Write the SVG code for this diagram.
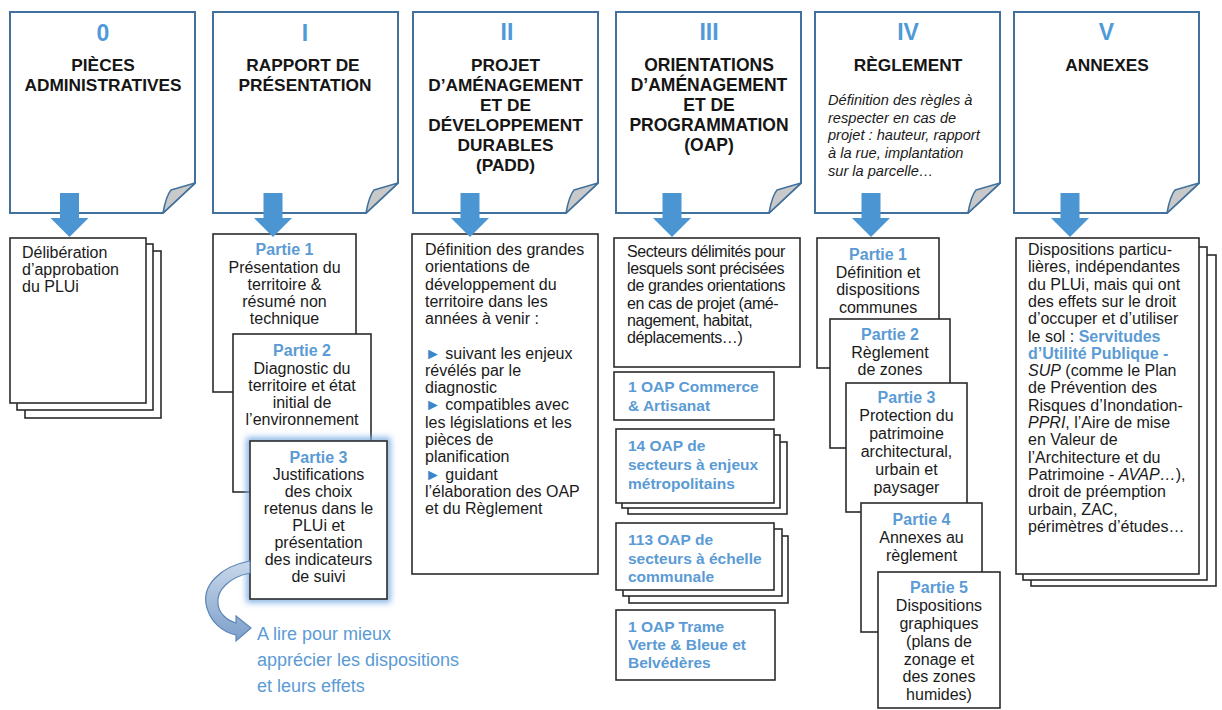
<svg xmlns="http://www.w3.org/2000/svg" xmlns:xlink="http://www.w3.org/1999/xlink" width="1222" height="710" viewBox="0 0 1222 710">
<style>
text{font-family:"Liberation Sans",Arial,sans-serif}
.pg{fill:#fff;stroke:#41719c;stroke-width:2}
.fold{fill:#c9c9c9;stroke:#41719c;stroke-width:1.5;stroke-linejoin:round}
.num{font-size:23px;font-weight:bold;fill:#4f9ad8;text-anchor:middle}
.ttl{font-size:17.3px;font-weight:bold;fill:#151515;text-anchor:middle}
.box{fill:#fff;stroke:#2b2b2b;stroke-width:1.6}
.t{font-size:16px;fill:#1a1a1a}
.c{text-anchor:middle}
.pt{font-weight:bold;fill:#5b9bd5}
.oap{font-size:15.5px;font-weight:bold;fill:#5b9bd5}
.it{font-size:14.6px;font-style:italic;fill:#1a1a1a}
.bul{fill:#3a86c8}
.arr{fill:#4a95d2}
</style>
<defs>
<g id="page">
<path class="pg" d="M0,0 H185 V171 L153,201 H0 Z"/>
<path class="fold" d="M153,201 Q156,184 161,178 L185,171 Z"/>
</g>
<filter id="glow" x="-20%" y="-20%" width="140%" height="140%"><feGaussianBlur stdDeviation="3"/></filter>
<linearGradient id="cg" x1="0" y1="0" x2="0" y2="1">
<stop offset="0" stop-color="#c9d8ea"/>
<stop offset="1" stop-color="#7c9fca"/>
</linearGradient>
</defs>

<g id="col0">
<use xlink:href="#page" x="10" y="12"/>
<text class="num" x="103" y="41">0</text>
<text class="ttl"><tspan x="103" y="71">PIÈCES</tspan><tspan x="103" y="91">ADMINISTRATIVES</tspan></text>
<rect class="box" x="25" y="251" width="136" height="167"/>
<rect class="box" x="17" y="244" width="136" height="166"/>
<rect class="box" x="10" y="238" width="136" height="165"/>
<text class="t"><tspan x="22" y="258">Délibération</tspan><tspan x="22" y="275">d’approbation</tspan><tspan x="22" y="292">du PLUi</tspan></text>
</g>

<g id="col1">
<use xlink:href="#page" x="213" y="12"/>
<text class="num" x="305" y="41">I</text>
<text class="ttl"><tspan x="303" y="71">RAPPORT DE</tspan><tspan x="305" y="91">PRÉSENTATION</tspan></text>
<g id="partie1-1">
<rect class="box" x="213" y="234" width="143" height="158"/>
<text class="t c"><tspan class="pt" x="284.5" y="255">Partie 1</tspan><tspan x="284.5" y="272.5">Présentation du</tspan><tspan x="284.5" y="290">territoire &amp;</tspan><tspan x="284.5" y="307">résumé non</tspan><tspan x="284.5" y="324">technique</tspan></text>
</g>
<g id="partie1-2">
<rect class="box" x="233" y="334" width="138" height="158"/>
<text class="t c"><tspan class="pt" x="302" y="356">Partie 2</tspan><tspan x="302" y="373.5">Diagnostic du</tspan><tspan x="302" y="390.5">territoire et état</tspan><tspan x="302" y="407.5">initial de</tspan><tspan x="302" y="424.5">l’environnement</tspan></text>
</g>
<g id="partie1-3">
<rect x="250" y="441" width="137" height="158" fill="none" stroke="#7fb0e4" stroke-width="7" filter="url(#glow)"/>
<rect class="box" x="250" y="441" width="137" height="158"/>
<text class="t c"><tspan class="pt" x="318.5" y="463">Partie 3</tspan><tspan x="318.5" y="480">Justifications</tspan><tspan x="318.5" y="497">des choix</tspan><tspan x="318.5" y="514">retenus dans le</tspan><tspan x="318.5" y="531">PLUi et</tspan><tspan x="318.5" y="548">présentation</tspan><tspan x="318.5" y="565">des indicateurs</tspan><tspan x="318.5" y="582">de suivi</tspan></text>
</g>
<g id="note">
<path d="M250,561 C222,566 200,585 207,608 C211,622 222,632 236,635 L236,641 L251,628 L236,616 L236,623 C226,620 219,613 218,604 C216,590 230,577 250,573 Z" fill="url(#cg)" stroke="#5b86b8" stroke-width="1.2"/>
<text font-size="18px" fill="#5b9bd5"><tspan x="257" y="640">A lire pour mieux</tspan><tspan x="257" y="666">apprécier les dispositions</tspan><tspan x="257" y="692">et leurs effets</tspan></text>
</g>
</g>

<g id="col2">
<use xlink:href="#page" x="413" y="12"/>
<text class="num" x="507" y="40">II</text>
<text class="ttl"><tspan x="505.5" y="71">PROJET</tspan><tspan x="505.5" y="91">D’AMÉNAGEMENT</tspan><tspan x="505.5" y="111">ET DE</tspan><tspan x="505.5" y="131">DÉVELOPPEMENT</tspan><tspan x="505.5" y="151">DURABLES</tspan><tspan x="505.5" y="171">(PADD)</tspan></text>
<rect class="box" x="412" y="234" width="186" height="340"/>
<text class="t"><tspan x="425" y="255">Définition des grandes</tspan><tspan x="425" y="272.3">orientations de</tspan><tspan x="425" y="289.5">développement du</tspan><tspan x="425" y="306.8">territoire dans les</tspan><tspan x="425" y="324.1">années à venir :</tspan><tspan x="425" y="358.6"><tspan class="bul">►</tspan> suivant les enjeux</tspan><tspan x="425" y="375.9">révélés par le</tspan><tspan x="425" y="393.2">diagnostic</tspan><tspan x="425" y="410.4"><tspan class="bul">►</tspan> compatibles avec</tspan><tspan x="425" y="427.7">les législations et les</tspan><tspan x="425" y="445">pièces de</tspan><tspan x="425" y="462.3">planification</tspan><tspan x="425" y="479.5"><tspan class="bul">►</tspan> guidant</tspan><tspan x="425" y="496.8">l’élaboration des OAP</tspan><tspan x="425" y="514">et du Règlement</tspan></text>
</g>

<g id="col3">
<use xlink:href="#page" x="616" y="12"/>
<text class="num" x="709" y="40">III</text>
<text class="ttl" style="font-size:17.5px"><tspan x="709" y="71">ORIENTATIONS</tspan><tspan x="709" y="91">D’AMÉNAGEMENT</tspan><tspan x="709" y="111">ET DE</tspan><tspan x="709" y="131">PROGRAMMATION</tspan><tspan x="709" y="151">(OAP)</tspan></text>
<g id="oap-intro">
<rect class="box" x="614" y="238" width="186" height="129"/>
<text class="t" letter-spacing="-0.4"><tspan x="627" y="257">Secteurs délimités pour</tspan><tspan x="627" y="274.2">lesquels sont précisées</tspan><tspan x="627" y="291.4">de grandes orientations</tspan><tspan x="627" y="308.6">en cas de projet (amé-</tspan><tspan x="627" y="325.8">nagement, habitat,</tspan><tspan x="627" y="343">déplacements…)</tspan></text>
</g>
<g id="oap-1">
<rect class="box" x="614" y="372" width="160" height="48"/>
<text class="oap"><tspan x="628" y="392">1 OAP Commerce</tspan><tspan x="628" y="411">&amp; Artisanat</tspan></text>
</g>
<g id="oap-14">
<rect class="box" x="628" y="442" width="159" height="72"/>
<rect class="box" x="622" y="435" width="158" height="73"/>
<rect class="box" x="616" y="429" width="158" height="74"/>
<text class="oap"><tspan x="628" y="451">14 OAP de</tspan><tspan x="628" y="470">secteurs à enjeux</tspan><tspan x="628" y="489">métropolitains</tspan></text>
</g>
<g id="oap-113">
<rect class="box" x="629" y="536" width="159" height="67"/>
<rect class="box" x="623" y="529" width="159" height="67"/>
<rect class="box" x="616" y="523" width="158" height="67"/>
<text class="oap"><tspan x="628" y="545">113 OAP de</tspan><tspan x="628" y="564">secteurs à échelle</tspan><tspan x="628" y="582">communale</tspan></text>
</g>
<g id="oap-tvb">
<rect class="box" x="616" y="610" width="159" height="70"/>
<text class="oap"><tspan x="628" y="632">1 OAP Trame</tspan><tspan x="628" y="650">Verte &amp; Bleue et</tspan><tspan x="628" y="668">Belvédères</tspan></text>
</g>
</g>

<g id="col4">
<use xlink:href="#page" x="815" y="12"/>
<text class="num" x="908" y="40">IV</text>
<text class="ttl"><tspan x="908" y="71">RÈGLEMENT</tspan></text>
<text class="it"><tspan x="828" y="105">Définition des règles à</tspan><tspan x="828" y="122.7">respecter en cas de</tspan><tspan x="828" y="140.4">projet : hauteur, rapport</tspan><tspan x="828" y="158.1">à la rue, implantation</tspan><tspan x="828" y="175.8">sur la parcelle…</tspan></text>
<g id="partie4-1">
<rect class="box" x="817" y="238" width="122" height="130"/>
<text class="t c"><tspan class="pt" x="878" y="260">Partie 1</tspan><tspan x="878" y="277.5">Définition et</tspan><tspan x="878" y="295">dispositions</tspan><tspan x="878" y="312.5">communes</tspan></text>
</g>
<g id="partie4-2">
<rect class="box" x="830" y="319" width="120" height="129"/>
<text class="t c"><tspan class="pt" x="890" y="340">Partie 2</tspan><tspan x="890" y="357.5">Règlement</tspan><tspan x="890" y="375">de zones</tspan></text>
</g>
<g id="partie4-3">
<rect class="box" x="846" y="383" width="121" height="129"/>
<text class="t c"><tspan class="pt" x="906.5" y="403">Partie 3</tspan><tspan x="906.5" y="421">Protection du</tspan><tspan x="906.5" y="439">patrimoine</tspan><tspan x="906.5" y="457">architectural,</tspan><tspan x="906.5" y="475">urbain et</tspan><tspan x="906.5" y="493">paysager</tspan></text>
</g>
<g id="partie4-4">
<rect class="box" x="861" y="503" width="121" height="129"/>
<text class="t c"><tspan class="pt" x="921.5" y="525">Partie 4</tspan><tspan x="921.5" y="543">Annexes au</tspan><tspan x="921.5" y="561">règlement</tspan></text>
</g>
<g id="partie4-5">
<rect class="box" x="878" y="572" width="122" height="136"/>
<text class="t c"><tspan class="pt" x="939" y="593">Partie 5</tspan><tspan x="939" y="611">Dispositions</tspan><tspan x="939" y="629">graphiques</tspan><tspan x="939" y="647">(plans de</tspan><tspan x="939" y="664.5">zonage et</tspan><tspan x="939" y="682">des zones</tspan><tspan x="939" y="699.5">humides)</tspan></text>
</g>
</g>

<g id="col5">
<use xlink:href="#page" x="1014" y="12"/>
<text class="num" x="1106.5" y="40">V</text>
<text class="ttl"><tspan x="1107" y="71">ANNEXES</tspan></text>
<rect class="box" x="1031" y="255" width="185" height="331"/>
<rect class="box" x="1023" y="247" width="184" height="333"/>
<rect class="box" x="1016" y="238" width="183" height="336"/>
<text class="t"><tspan x="1028" y="255">Dispositions particu-</tspan><tspan x="1028" y="272.3">lières, indépendantes</tspan><tspan x="1028" y="289.6">du PLUi, mais qui ont</tspan><tspan x="1028" y="306.9">des effets sur le droit</tspan><tspan x="1028" y="324.2">d’occuper et d’utiliser</tspan><tspan x="1028" y="341.5">le sol : <tspan class="pt">Servitudes</tspan></tspan><tspan class="pt" x="1028" y="358.8">d’Utilité Publique -</tspan><tspan x="1028" y="376.1"><tspan font-style="italic">SUP</tspan> (comme le Plan</tspan><tspan x="1028" y="393.4">de Prévention des</tspan><tspan x="1028" y="410.7">Risques d’Inondation-</tspan><tspan x="1028" y="428"><tspan font-style="italic">PPRI</tspan>, l’Aire de mise</tspan><tspan x="1028" y="445.3">en Valeur de</tspan><tspan x="1028" y="462.6">l’Architecture et du</tspan><tspan x="1028" y="479.9">Patrimoine - <tspan font-style="italic">AVAP…</tspan>),</tspan><tspan x="1028" y="497.2">droit de préemption</tspan><tspan x="1028" y="514.5">urbain, ZAC,</tspan><tspan x="1028" y="531.8">périmètres d’études…</tspan></text>
</g>

<g id="connectors">
<path class="arr" d="M60,193 H79 V218 H88.5 L69.5,237 L50.5,218 H60 Z"/>
<path class="arr" d="M263.5,193 H282.5 V218 H292 L273,237 L254,218 H263.5 Z"/>
<path class="arr" d="M460.5,193 H479.5 V218 H489 L470,237 L451,218 H460.5 Z"/>
<path class="arr" d="M662.5,193 H681.5 V218 H691 L672,237 L653,218 H662.5 Z"/>
<path class="arr" d="M861.5,193 H880.5 V218 H890 L871,237 L852,218 H861.5 Z"/>
<path class="arr" d="M1060.5,193 H1079.5 V218 H1089 L1070,237 L1051,218 H1060.5 Z"/>
</g>
</svg>
